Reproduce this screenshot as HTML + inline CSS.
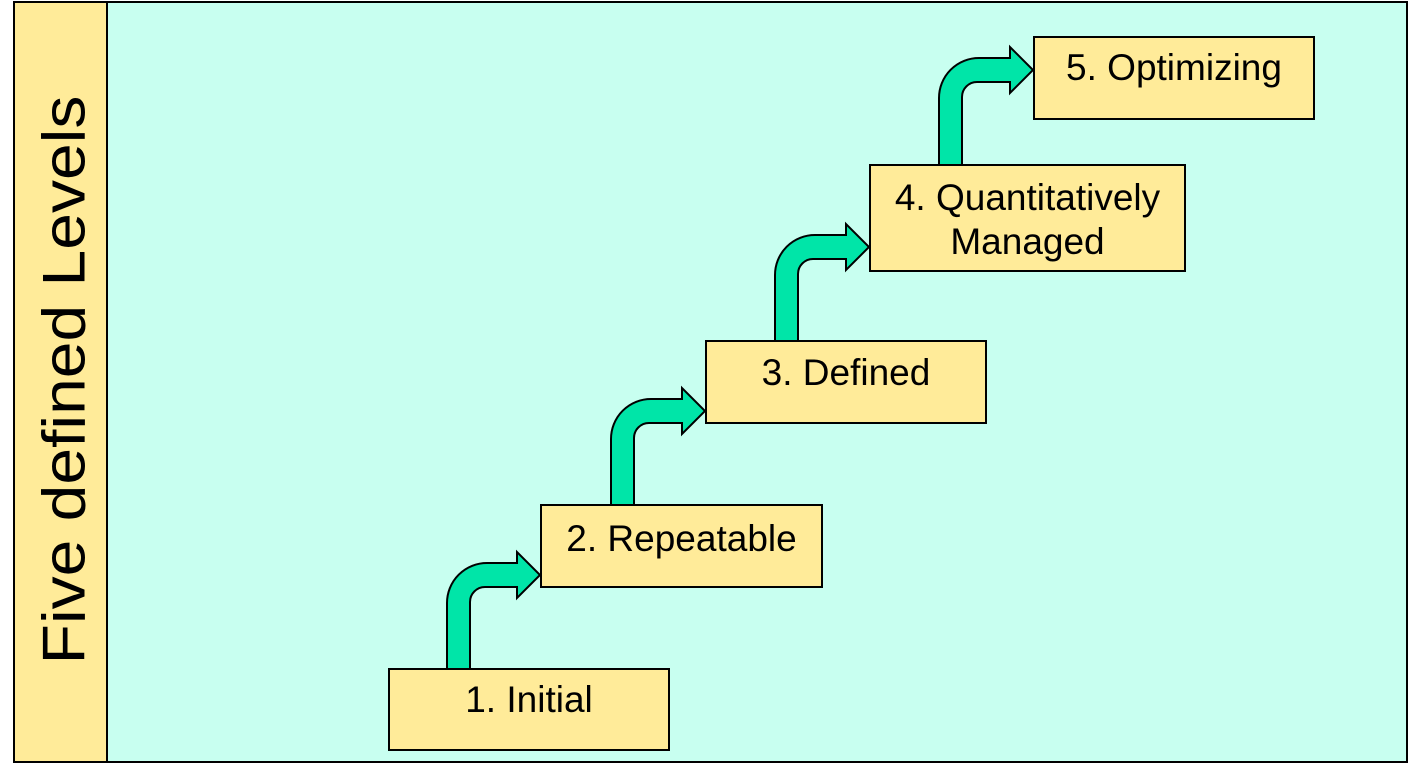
<!DOCTYPE html>
<html><head><style>
body{margin:0;width:1409px;height:764px;background:#fff;overflow:hidden;font-family:"Liberation Sans",sans-serif}
.box{position:absolute;background:#ffeb99;border:2px solid #000;box-sizing:border-box;text-align:center;font-size:37px;line-height:44px;color:#000;white-space:nowrap}
</style></head><body>
<div style="position:absolute;left:13px;top:1px;width:1395px;height:762px;background:#c8fff0;border:2px solid #000;box-sizing:border-box"></div>
<div style="position:absolute;left:13px;top:1px;width:95px;height:762px;background:#ffeb99;border:2px solid #000;box-sizing:border-box"></div>
<div style="position:absolute;left:64px;top:380px;transform:translate(-50%,-50%) rotate(-90deg) scaleX(1.1);white-space:nowrap;font-size:60px;color:#000">Five defined Levels</div>
<svg width="1409" height="764" style="position:absolute;left:0;top:0">
<g fill="#00e5a8" stroke="#000" stroke-width="2">
<path d="M447,669 L447,603 A40,40 0 0 1 487,563 L517,563 L517,552 L540,575 L517,598 L517,587 L485,587 A15,15 0 0 0 470,602 L470,669 Z"/>
<path d="M611,506 L611,439 A40,40 0 0 1 651,399 L682,399 L682,388 L705,411 L682,434 L682,423 L649,423 A15,15 0 0 0 634,438 L634,506 Z"/>
<path d="M775,342 L775,275 A40,40 0 0 1 815,235 L846,235 L846,224 L869,247 L846,270 L846,259 L813,259 A15,15 0 0 0 798,274 L798,342 Z"/>
<path d="M939,166 L939,98 A40,40 0 0 1 979,58 L1010,58 L1010,47 L1033,70 L1010,93 L1010,82 L977,82 A15,15 0 0 0 962,97 L962,166 Z"/>
</g></svg>
<div class="box" style="left:388px;top:668px;width:282px;height:83px;padding-top:8px">1. Initial</div>
<div class="box" style="left:540px;top:504px;width:283px;height:84px;padding-top:11px">2. Repeatable</div>
<div class="box" style="left:705px;top:340px;width:282px;height:84px;padding-top:9px">3. Defined</div>
<div class="box" style="left:869px;top:164px;width:317px;height:108px;padding-top:10px">4. Quantitatively<br>Managed</div>
<div class="box" style="left:1033px;top:36px;width:282px;height:84px;padding-top:8px">5. Optimizing</div>
</body></html>
